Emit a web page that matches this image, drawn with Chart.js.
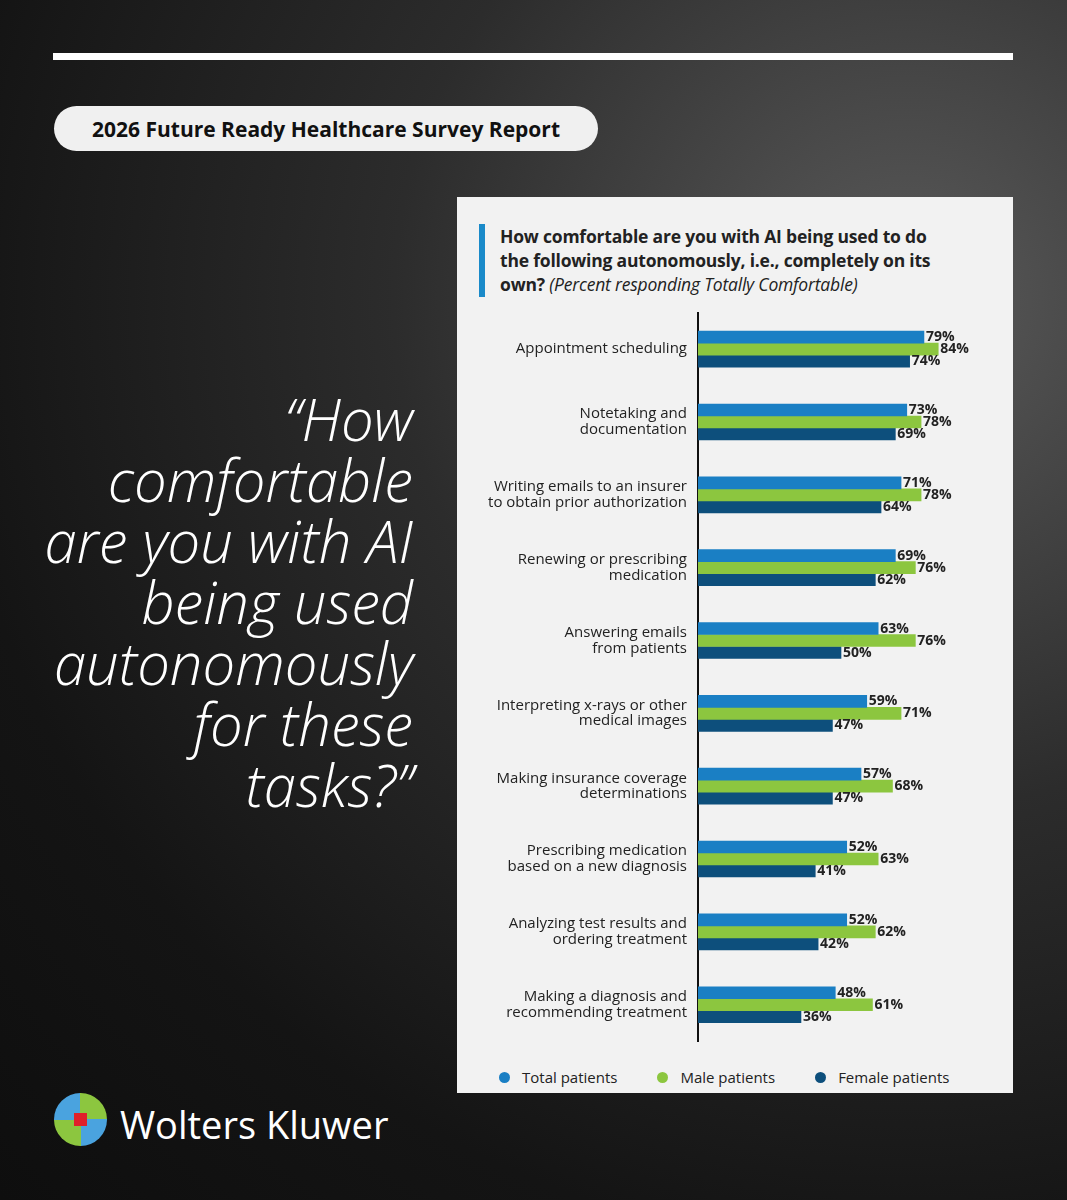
<!DOCTYPE html>
<html><head><meta charset="utf-8">
<script src="https://cdn.jsdelivr.net/npm/chart.js@4"></script>
<style>
body{margin:0;width:1067px;height:1200px;overflow:hidden;font-family:"Open Sans",sans-serif;
background:radial-gradient(ellipse at 85% 25%,#5a5a5a 0%,#2c2c2c 40%,#141414 75%,#0e0e0e 100%);position:relative}
.line{position:absolute;left:53px;top:53px;width:960px;height:7px;background:#fff}
.pill{position:absolute;left:54px;top:106px;width:544px;height:45px;border-radius:23px;background:#f0f0f0;color:#111;font:bold 21px "Open Sans",sans-serif;display:flex;align-items:center;justify-content:center}
.quote{position:absolute;left:0px;width:413px;top:388px;text-align:right;color:#fff;font:italic 300 58px/61px "Open Sans",sans-serif;white-space:nowrap}
.panel{position:absolute;left:457px;top:197px;width:556px;height:896px;background:#f2f2f2}
.bar{position:absolute;left:22px;top:27px;width:6px;height:73px;background:#1a8ac9}
.title{position:absolute;left:43px;top:27px;width:520px;font:bold 17.5px/24px "Open Sans",sans-serif;color:#222;letter-spacing:-0.2px;white-space:nowrap}
.title i{font-weight:normal}
.legend{position:absolute;top:870px;left:42px;font:15px "Open Sans",sans-serif;color:#222;display:flex;gap:0}
.legend span{display:inline-flex;align-items:center;margin-right:40px}
.legend b{display:inline-block;width:11px;height:11px;border-radius:50%;margin-right:12px}
.logo{position:absolute;left:54px;top:1093px;width:53px;height:53px;border-radius:50%;
background:conic-gradient(#8cc63f 0 25%,#4aa3df 0 50%,#8cc63f 0 75%,#4aa3df 0);}
.logo i{position:absolute;left:20px;top:20px;width:13px;height:13px;background:#e0202a}
.wk{position:absolute;left:120px;top:1098px;color:#fff;font:38px "Open Sans",sans-serif}
</style></head><body>
<div class="line"></div>
<div class="pill">2026 Future Ready Healthcare Survey Report</div>
<div class="quote">“How<br>comfortable<br>are you with AI<br>being used<br>autonomously<br>for these<br>tasks?”</div>
<div class="panel"><div class="bar"></div>
<div class="title">How comfortable are you with AI being used to do<br>the following autonomously, i.e., completely on its<br>own? <i>(Percent responding Totally Comfortable)</i></div>
<div class="legend"><span><b style="background:#1a7fc4"></b>Total patients</span><span><b style="background:#8cc63f"></b>Male patients</span><span><b style="background:#0d4f7c"></b>Female patients</span></div>
</div>
<div class="logo"><i></i></div><div class="wk">Wolters Kluwer</div>
<div style="position:absolute;left:457px;top:286px;width:556px;height:774px"><canvas id="c"></canvas></div>
<script>
const categories=[["Appointment scheduling"],["Notetaking and","documentation"],["Writing emails to an insurer","to obtain prior authorization"],["Renewing or prescribing","medication"],["Answering emails","from patients"],["Interpreting x-rays or other","medical images"],["Making insurance coverage","determinations"],["Prescribing medication","based on a new diagnosis"],["Analyzing test results and","ordering treatment"],["Making a diagnosis and","recommending treatment"]];
const total=[79,73,71,69,63,59,57,52,52,48];
const male=[84,78,78,76,76,71,68,63,62,61];
const female=[74,69,64,62,50,47,47,41,42,36];
const labelPlugin={id:'lbl',afterDatasetsDraw(ch){const ctx=ch.ctx;ctx.save();ctx.font='bold 14px "Open Sans",sans-serif';ctx.fillStyle='#222';ctx.textBaseline='middle';
ch.data.datasets.forEach((d,i)=>{ch.getDatasetMeta(i).data.forEach((b,j)=>{ctx.fillText(d.data[j]+'%',b.x+2,b.y);});});ctx.restore();}};
new Chart(document.getElementById('c'),{type:'bar',
data:{labels:categories,datasets:[
{label:'Total patients',data:total,backgroundColor:'#1a7fc4'},
{label:'Male patients',data:male,backgroundColor:'#8cc63f'},
{label:'Female patients',data:female,backgroundColor:'#0d4f7c'}]},
options:{indexAxis:'y',responsive:true,maintainAspectRatio:false,animation:false,
datasets:{bar:{barThickness:12,categoryPercentage:0.71,barPercentage:1}},
layout:{padding:{right:29,top:0,bottom:0}},
plugins:{legend:{display:false},tooltip:{enabled:false}},
scales:{x:{min:0,max:100,display:false},
y:{afterFit(s){s.width=241;},grid:{display:false,drawTicks:false},border:{color:'#111',width:2},
ticks:{color:'#222',font:{size:15,family:'"Open Sans",sans-serif',lineHeight:1.05},padding:11,autoSkip:false}}}},
plugins:[labelPlugin]});
</script></body></html>
